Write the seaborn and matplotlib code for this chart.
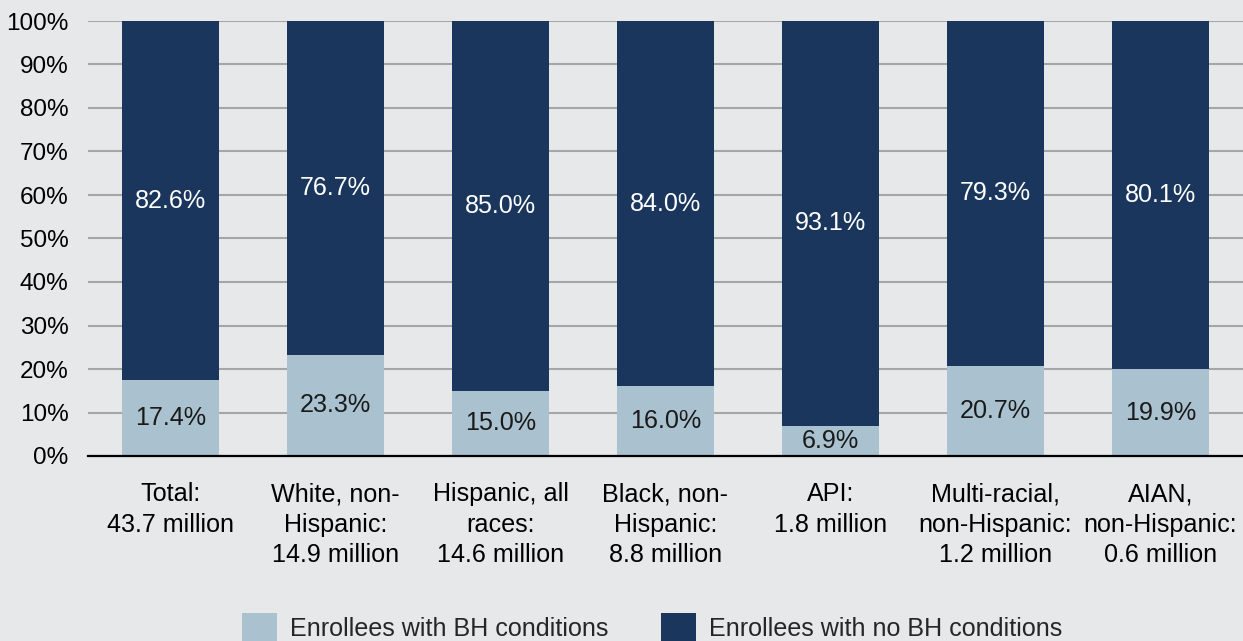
import matplotlib
matplotlib.use("Agg")
import matplotlib.pyplot as plt
import seaborn as sns
import pandas as pd
from matplotlib.patches import Patch

categories = [
    "Total:\n43.7 million",
    "White, non-\nHispanic:\n14.9 million",
    "Hispanic, all\nraces:\n14.6 million",
    "Black, non-\nHispanic:\n8.8 million",
    "API:\n1.8 million",
    "Multi-racial,\nnon-Hispanic:\n1.2 million",
    "AIAN,\nnon-Hispanic:\n0.6 million",
]
with_bh = [17.4, 23.3, 15.0, 16.0, 6.9, 20.7, 19.9]
without_bh = [82.6, 76.7, 85.0, 84.0, 93.1, 79.3, 80.1]
yticks = [0, 10, 20, 30, 40, 50, 60, 70, 80, 90, 100]
series_names = ["Enrollees with BH conditions", "Enrollees with no BH conditions"]

LIGHT = "#aac2cf"
NAVY = "#1a365d"
BG = "#e7e8ea"
FS_TICK = 17.5
FS = 18.1

sns.set_theme(style="white")
plt.rcParams["font.family"] = ["Liberation Sans", "DejaVu Sans"]

df = pd.DataFrame({
    "cat": categories,
    "bh": with_bh,
    "nobh": without_bh,
})
df["total"] = df["bh"] + df["nobh"]

fig = plt.figure(figsize=(12.43, 6.41), dpi=100, facecolor=BG)
ax = fig.add_axes([88 / 1243, (641 - 456) / 641, (1243 - 88) / 1243, 435 / 641])
ax.set_facecolor(BG)

# stacked bars: full-height navy, light segment drawn over its base
sns.barplot(data=df, x="cat", y="total", color=NAVY, width=0.59,
            saturation=1, linewidth=0, ax=ax, zorder=3)
sns.barplot(data=df, x="cat", y="bh", color=LIGHT, width=0.59,
            saturation=1, linewidth=0, ax=ax, zorder=3)

for i, (b, n) in enumerate(zip(with_bh, without_bh)):
    ax.text(i, b / 2, f"{b:.1f}%", ha="center", va="center",
            fontsize=FS, color="#1a1a1a", zorder=4)
    ax.text(i, b + n / 2, f"{n:.1f}%", ha="center", va="center",
            fontsize=FS, color="white", zorder=4)

ax.set_xlim(-0.5, 6.5)
ax.set_ylim(0, 100)
ax.set_yticks(yticks)
ax.set_yticklabels([f"{v}%" for v in yticks])
ax.set_xlabel("")
ax.set_ylabel("")
ax.tick_params(axis="y", length=0, pad=14, labelsize=FS_TICK, labelcolor="black")
ax.tick_params(axis="x", length=0, pad=19, labelsize=FS, labelcolor="black")
for lbl in ax.get_xticklabels():
    lbl.set_linespacing(1.33)

ax.yaxis.grid(True, color="#a6a6a6", linewidth=1.5, zorder=0)
ax.set_axisbelow(True)
for side in ["top", "right", "left"]:
    ax.spines[side].set_visible(False)
ax.spines["bottom"].set_color("black")
ax.spines["bottom"].set_linewidth(1.6)
ax.spines["bottom"].set_zorder(5)

handles = [Patch(facecolor=LIGHT, edgecolor="none"),
           Patch(facecolor=NAVY, edgecolor="none")]
fig.legend(handles, series_names, loc="center", ncol=2,
           bbox_to_anchor=(652 / 1243, 13 / 641), frameon=False,
           fontsize=FS, handlelength=1.4, handleheight=1.4,
           handletextpad=0.52, columnspacing=2.1)

fig.savefig("out.png", dpi=100, facecolor=BG)
